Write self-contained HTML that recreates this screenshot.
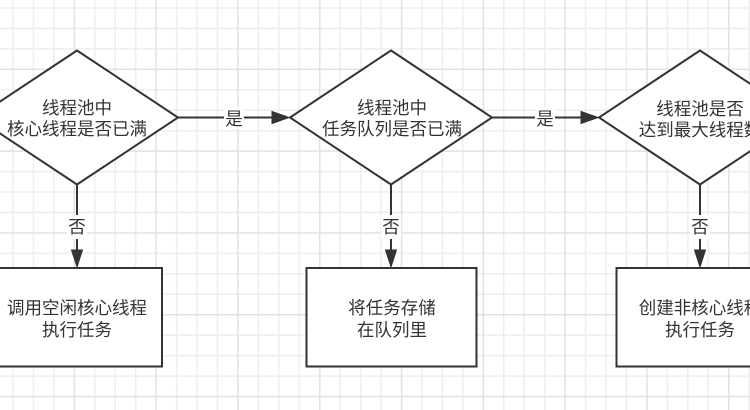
<!DOCTYPE html>
<html>
<head>
<meta charset="utf-8">
<style>
html,body{margin:0;padding:0;background:#fff;}
svg{display:block;}
text{font-family:"Liberation Sans","Noto Sans CJK SC",sans-serif;font-size:17.5px;fill:#333;}
</style>
</head>
<body>
<svg width="750" height="410" viewBox="0 0 750 410" xmlns="http://www.w3.org/2000/svg">
<rect x="0" y="0" width="750" height="410" fill="#fff"/>
<path fill="none" stroke="#eeeeee" stroke-width="1.5" d="
M13 0V410M33.45 0V410M53.9 0V410M94.8 0V410M115.25 0V410M135.7 0V410M176.6 0V410M197.05 0V410M217.5 0V410M258.4 0V410M278.85 0V410M299.3 0V410M340.2 0V410M360.65 0V410M381.1 0V410M422 0V410M442.45 0V410M462.9 0V410M503.8 0V410M524.25 0V410M544.7 0V410M585.6 0V410M606.05 0V410M626.5 0V410M667.4 0V410M687.85 0V410M708.3 0V410M749.2 0V410
M0 8H750M0 28.45H750M0 48.9H750M0 89.8H750M0 110.25H750M0 130.7H750M0 171.6H750M0 192.05H750M0 212.5H750M0 253.4H750M0 273.85H750M0 294.3H750M0 335.2H750M0 355.65H750M0 376.1H750"/>
<path fill="none" stroke="#e2e2e2" stroke-width="1.5" d="
M74.35 0V410M156.15 0V410M237.95 0V410M319.75 0V410M401.55 0V410M483.35 0V410M565.15 0V410M646.95 0V410M728.75 0V410
M0 69.35H750M0 151.15H750M0 232.95H750M0 314.75H750M0 396.55H750"/>

<g stroke="#333" stroke-width="2" fill="none">
  <!-- horizontal connectors -->
  <line x1="178" y1="117.5" x2="274" y2="117.5"/>
  <line x1="492" y1="117.5" x2="584" y2="117.5"/>
  <!-- vertical connectors -->
  <line x1="77" y1="184.5" x2="77" y2="254"/>
  <line x1="391" y1="184.5" x2="391" y2="254"/>
  <line x1="700" y1="184.5" x2="700" y2="254"/>
</g>
<g fill="#333" stroke="#333" stroke-width="1">
  <polygon points="289,117.5 272,111.5 272,123.5"/>
  <polygon points="598,117.5 581,111.5 581,123.5"/>
  <polygon points="77,267 71.5,250 82.5,250"/>
  <polygon points="391,267 385.5,250 396.5,250"/>
  <polygon points="700,267 694.5,250 705.5,250"/>
</g>

<!-- edge labels -->
<rect x="224" y="107" width="20" height="22" fill="#fff"/>
<text x="234" y="119" text-anchor="middle" dominant-baseline="central">是</text>
<rect x="535" y="107" width="20" height="22" fill="#fff"/>
<text x="545" y="119" text-anchor="middle" dominant-baseline="central">是</text>
<rect x="67" y="215" width="20" height="24" fill="#fff"/>
<text x="77" y="227" text-anchor="middle" dominant-baseline="central">否</text>
<rect x="381" y="215" width="20" height="24" fill="#fff"/>
<text x="391" y="227" text-anchor="middle" dominant-baseline="central">否</text>
<rect x="690" y="215" width="20" height="24" fill="#fff"/>
<text x="700" y="227" text-anchor="middle" dominant-baseline="central">否</text>

<!-- diamonds -->
<g fill="#fff" stroke="#333" stroke-width="2">
  <polygon points="77,50.5 178,117.5 77,184.5 -24,117.5"/>
  <polygon points="391,50.5 492,117.5 391,184.5 290,117.5"/>
  <polygon points="700,50.5 801,117.5 700,184.5 599,117.5"/>
  <rect x="-8" y="268" width="170" height="98.5"/>
  <rect x="306.5" y="268" width="170" height="98.5"/>
  <rect x="616.5" y="268" width="170" height="98.5"/>
</g>

<!-- diamond texts -->
<text x="77" y="108" text-anchor="middle" dominant-baseline="central">线程池中</text>
<text x="77" y="129" text-anchor="middle" dominant-baseline="central">核心线程是否已满</text>
<text x="392" y="108" text-anchor="middle" dominant-baseline="central">线程池中</text>
<text x="392" y="129" text-anchor="middle" dominant-baseline="central">任务队列是否已满</text>
<text x="700" y="109" text-anchor="middle" dominant-baseline="central">线程池是否</text>
<text x="700" y="130" text-anchor="middle" dominant-baseline="central">达到最大线程数</text>

<!-- rect texts -->
<text x="77" y="308" text-anchor="middle" dominant-baseline="central">调用空闲核心线程</text>
<text x="77" y="330" text-anchor="middle" dominant-baseline="central">执行任务</text>
<text x="392" y="308" text-anchor="middle" dominant-baseline="central">将任务存储</text>
<text x="392" y="330" text-anchor="middle" dominant-baseline="central">在队列里</text>
<text x="700" y="308" text-anchor="middle" dominant-baseline="central">创建非核心线程</text>
<text x="700" y="330" text-anchor="middle" dominant-baseline="central">执行任务</text>
</svg>
</body>
</html>
